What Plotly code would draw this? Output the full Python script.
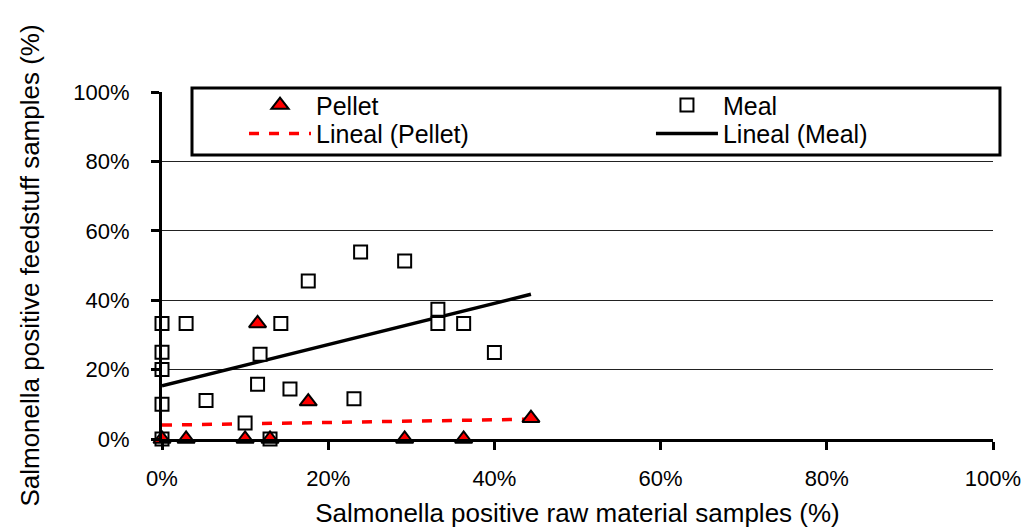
import plotly.graph_objects as go

# ---- data (percent) ----
pellet_x = [0.0, 2.9, 10.0, 11.5, 13.0, 17.6, 29.2, 36.3, 44.4]
pellet_y = [0.0, 0.0, 0.0, 33.3, 0.0, 10.8, 0.0, 0.0, 6.0]

meal_x = [23.9, 29.2, 17.6, 33.2, 33.2, 36.3, 40.0, 0.0, 2.9, 14.3, 0.0, 11.8,
          0.0, 11.5, 15.4, 5.3, 23.1, 0.0, 10.0, 0.0, 13.0]
meal_y = [53.9, 51.3, 45.5, 37.4, 33.3, 33.3, 24.9, 33.3, 33.3, 33.3, 25.0, 24.4,
          20.0, 15.8, 14.4, 11.1, 11.6, 10.0, 4.6, 0.0, 0.0]

# linear trend lines
pellet_trend_x = [0.0, 44.4]
pellet_trend_y = [4.0, 5.7]
meal_trend_x = [0.0, 44.4]
meal_trend_y = [15.3, 41.7]

x_ticks = [0, 20, 40, 60, 80, 100]
x_tick_labels = ["0%", "20%", "40%", "60%", "80%", "100%"]
y_ticks = [0, 20, 40, 60, 80, 100]
y_tick_labels = ["0%", "20%", "40%", "60%", "80%", "100%"]

FONT = "Liberation Sans, Arial, sans-serif"

fig = go.Figure()

fig.add_trace(go.Scatter(
    x=pellet_trend_x, y=pellet_trend_y, mode="lines", name="Lineal (Pellet)",
    line=dict(color="#ff0000", width=3.5, dash="10px,10px"),
    legend="legend3", cliponaxis=False, hoverinfo="skip"))
fig.add_trace(go.Scatter(
    x=meal_trend_x, y=meal_trend_y, mode="lines", name="Lineal (Meal)",
    line=dict(color="black", width=3.5),
    legend="legend4", cliponaxis=False, hoverinfo="skip"))
fig.add_trace(go.Scatter(
    x=meal_x, y=meal_y, mode="markers", name="Meal",
    marker=dict(symbol="square", size=13, color="white",
                line=dict(color="black", width=2)),
    legend="legend2", cliponaxis=False))
fig.add_trace(go.Scatter(
    x=pellet_x, y=pellet_y, mode="markers", name="Pellet",
    marker=dict(symbol="triangle-up", size=15, color="#ff0000",
                line=dict(color="black", width=2)),
    legend="legend", cliponaxis=False))

legend_common = dict(
    orientation="h", xanchor="left", yanchor="middle", itemwidth=62,
    bgcolor="rgba(0,0,0,0)", borderwidth=0,
    font=dict(family=FONT, size=25, color="black"),
)
COL1, COL2 = 0.0987, 0.5884
ROW1, ROW2 = 0.9617, 0.8795

fig.update_layout(
    width=1021, height=528,
    margin=dict(l=162, r=28, t=92, b=89, pad=0),
    paper_bgcolor="white", plot_bgcolor="white",
    font=dict(family=FONT, color="black", size=22),
    showlegend=True,
    legend=dict(legend_common, x=COL1, y=ROW1),
    legend2=dict(legend_common, x=COL2, y=ROW1),
    legend3=dict(legend_common, x=COL1, y=ROW2),
    legend4=dict(legend_common, x=COL2, y=ROW2),
    shapes=[dict(type="rect", xref="paper", yref="paper",
                 x0=0.0361, x1=1.0084, y0=0.8184, y1=1.0115,
                 fillcolor="white", line=dict(color="black", width=3),
                 layer="above")],
    xaxis=dict(
        range=[0, 100], tickmode="array", tickvals=x_ticks, ticktext=x_tick_labels,
        showgrid=False, zeroline=False, automargin=False,
        ticklabeloverflow="allow",
        showline=True, linecolor="black", linewidth=3,
        ticks="outside", ticklen=8, tickwidth=3, tickcolor="black",
        tickfont=dict(size=22), ticklabelstandoff=10,
        title=dict(text="Salmonella positive raw material samples (%)",
                   font=dict(size=26), standoff=22),
    ),
    yaxis=dict(
        range=[0, 100], tickmode="array", tickvals=y_ticks, ticktext=y_tick_labels,
        showgrid=True, gridcolor="#222222", gridwidth=1,
        zeroline=False, automargin=False,
        showline=True, linecolor="black", linewidth=3,
        ticks="outside", ticklen=8, tickwidth=3, tickcolor="black",
        tickfont=dict(size=22), ticklabelstandoff=17,
        title=dict(text="Salmonella positive feedstuff samples (%)",
                   font=dict(size=26), standoff=27),
    ),
)

fig.write_html("out.html",
               config={"displayModeBar": False},
               post_script="document.body.style.margin='0';"
                           "document.body.style.overflow='hidden';")
